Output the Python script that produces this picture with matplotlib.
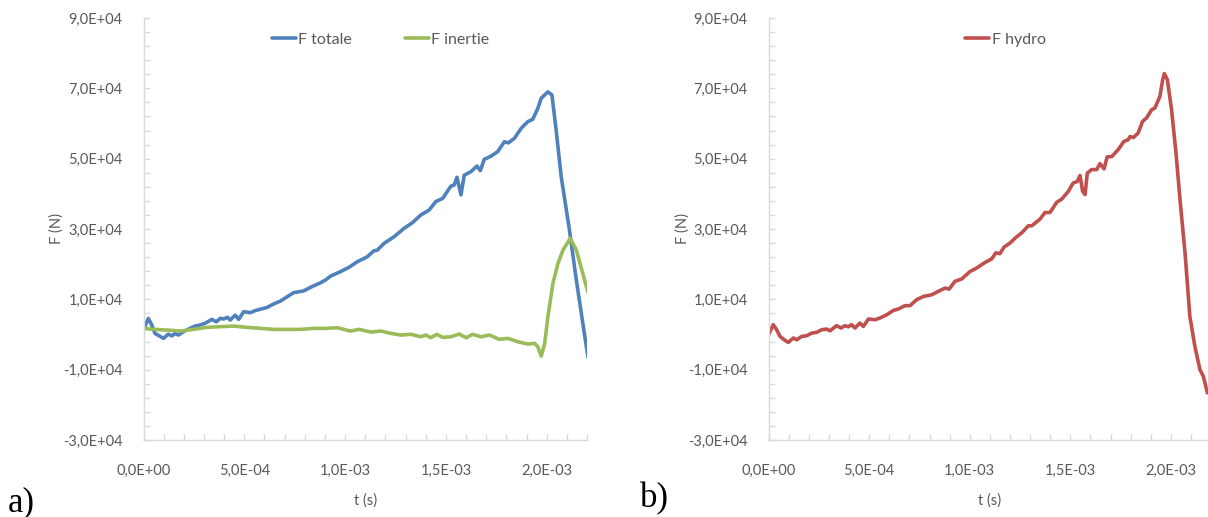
import matplotlib
matplotlib.use("Agg")
import matplotlib.pyplot as plt
from matplotlib.ticker import FuncFormatter, MultipleLocator

# ---- data (t in s, F in N) ----
t_totale = [0.0, 2.4e-5, 4.1e-5, 5.7e-5, 9.9e-5, 1.23e-4, 1.4e-4, 1.57e-4, 1.73e-4, 1.98e-4,
            2.31e-4, 2.56e-4, 2.81e-4, 3.06e-4, 3.39e-4, 3.61e-4, 3.81e-4, 3.97e-4, 4.17e-4,
            4.3e-4, 4.55e-4, 4.72e-4, 4.97e-4, 5.3e-4, 5.55e-4, 5.8e-4, 6.13e-4, 6.46e-4,
            6.79e-4, 7.12e-4, 7.45e-4, 7.95e-4, 8.28e-4, 8.78e-4, 9.03e-4, 9.28e-4, 9.78e-4,
            1.019e-3, 1.061e-3, 1.11e-3, 1.143e-3, 1.16e-3, 1.193e-3, 1.243e-3, 1.293e-3,
            1.334e-3, 1.376e-3, 1.417e-3, 1.45e-3, 1.484e-3, 1.525e-3, 1.541e-3, 1.555e-3,
            1.575e-3, 1.591e-3, 1.624e-3, 1.654e-3, 1.671e-3, 1.69e-3, 1.724e-3, 1.757e-3,
            1.79e-3, 1.81e-3, 1.84e-3, 1.873e-3, 1.906e-3, 1.931e-3, 1.956e-3, 1.973e-3,
            2.006e-3, 2.026e-3, 2.047e-3, 2.072e-3, 2.113e-3, 2.147e-3, 2.185e-3, 2.205e-3]
F_totale = [1300, 4600, 2700, 300, -1100, 100, -400, 300, -150, 800,
            1750, 2400, 2700, 3200, 4300, 3600, 4600, 4400, 4900,
            4100, 5500, 4300, 6500, 6200, 6800, 7200, 7700, 8700,
            9500, 10700, 11900, 12400, 13400, 14700, 15500, 16600, 17900,
            19100, 20700, 22100, 23800, 24000, 25900, 27800, 30200,
            31800, 34000, 35400, 37800, 38700, 42200, 42500, 44700,
            39700, 45300, 46300, 47900, 46600, 49800, 50700, 52000,
            54800, 54500, 55800, 58600, 60500, 61200, 64300, 67200,
            69000, 68100, 58100, 44900, 29700, 15500, 1000, -6500]

t_inertie = [0.0, 4.9e-5, 1.15e-4, 1.82e-4, 2.48e-4, 3.14e-4, 3.81e-4, 4.47e-4, 5.13e-4,
             5.8e-4, 6.46e-4, 7.12e-4, 7.79e-4, 8.45e-4, 9.1e-4, 9.61e-4, 9.94e-4, 1.027e-3,
             1.069e-3, 1.127e-3, 1.177e-3, 1.226e-3, 1.276e-3, 1.326e-3, 1.376e-3, 1.401e-3,
             1.425e-3, 1.455e-3, 1.484e-3, 1.525e-3, 1.566e-3, 1.6e-3, 1.633e-3, 1.674e-3,
             1.716e-3, 1.765e-3, 1.807e-3, 1.857e-3, 1.906e-3, 1.94e-3, 1.956e-3, 1.973e-3,
             1.99e-3, 2.006e-3, 2.031e-3, 2.056e-3, 2.081e-3, 2.117e-3, 2.147e-3, 2.188e-3,
             2.216e-3]
F_inertie = [1750, 1460, 1270, 980, 1460, 2030, 2220, 2400, 2030,
             1750, 1460, 1460, 1460, 1750, 1750, 1920, 1460, 980,
             1460, 700, 980, 330, -150, 50, -640, -150,
             -920, 50, -830, -640, 130, -920, 50, -640,
             -150, -1380, -1100, -2060, -2720, -2530, -3480, -6130,
             -2530, 5050, 14550, 20240, 24020, 27350, 24020, 15490,
             9800]

t_hydro = [0.0, 2.3e-5, 4.0e-5, 5.7e-5, 8.2e-5, 9.8e-5, 1.23e-4, 1.4e-4, 1.64e-4, 1.89e-4,
           2.14e-4, 2.39e-4, 2.64e-4, 2.89e-4, 3.05e-4, 3.38e-4, 3.6e-4, 3.8e-4, 3.96e-4,
           4.13e-4, 4.29e-4, 4.54e-4, 4.71e-4, 4.96e-4, 5.29e-4, 5.54e-4, 5.87e-4, 6.2e-4,
           6.45e-4, 6.78e-4, 7.03e-4, 7.36e-4, 7.69e-4, 8.11e-4, 8.43e-4, 8.77e-4, 8.97e-4,
           9.26e-4, 9.6e-4, 1.001e-3, 1.034e-3, 1.076e-3, 1.109e-3, 1.129e-3, 1.15e-3,
           1.171e-3, 1.2e-3, 1.225e-3, 1.258e-3, 1.291e-3, 1.308e-3, 1.349e-3, 1.374e-3,
           1.399e-3, 1.432e-3, 1.457e-3, 1.49e-3, 1.514e-3, 1.534e-3, 1.548e-3, 1.561e-3,
           1.573e-3, 1.584e-3, 1.606e-3, 1.631e-3, 1.647e-3, 1.667e-3, 1.683e-3, 1.706e-3,
           1.738e-3, 1.766e-3, 1.788e-3, 1.796e-3, 1.813e-3, 1.837e-3, 1.859e-3, 1.879e-3,
           1.904e-3, 1.92e-3, 1.945e-3, 1.959e-3, 1.967e-3, 1.982e-3, 2.003e-3, 2.025e-3,
           2.045e-3, 2.07e-3, 2.094e-3, 2.119e-3, 2.144e-3, 2.161e-3, 2.181e-3]
F_hydro = [-70, 2800, 1350, -550, -1700, -2250, -1000, -1500, -550, -350,
           400, 600, 1350, 1550, 1050, 2500, 1850, 2500, 2200,
           2800, 1850, 3250, 2300, 4400, 4200, 4700, 5600, 6850,
           7250, 8200, 8200, 9900, 10800, 11300, 12250, 13200, 12900,
           15100, 15800, 17900, 18900, 20500, 21500, 23200, 23000,
           24900, 26000, 27400, 28900, 30900, 30900, 32800, 34700,
           34700, 37600, 38500, 40700, 43100, 43500, 45200, 40700,
           39800, 45900, 46900, 46900, 48600, 47100, 50500, 50600,
           52600, 54900, 55400, 56300, 56000, 57300, 60600, 61600,
           63900, 64400, 67700, 72500, 74200, 72500, 63900, 51600,
           38300, 23200, 5100, -3400, -10000, -11900, -16600]

x_label = "t (s)"
y_label = "F (N)"
panel_labels = ["a)", "b)"]

# ---- figure ----
W, H = 1208, 517
fig = plt.figure(figsize=(W / 100, H / 100), dpi=100)
fig.patch.set_facecolor("white")

tick_font = ["Lato", "DejaVu Sans"]
gray = "#595959"
axis_gray = "#D9D9D9"
fs = 10.5

def sci_fmt(v, pos):
    return f"{v:.1E}".replace(".", ",")

def style(ax):
    ax.set_xlim(0, 2.2e-3)
    ax.set_ylim(-3e4, 9e4)
    ax.xaxis.set_major_locator(MultipleLocator(5e-4))
    ax.xaxis.set_minor_locator(MultipleLocator(1e-4))
    ax.yaxis.set_major_locator(MultipleLocator(2e4, offset=1e4))
    ax.yaxis.set_minor_locator(MultipleLocator(4e3, offset=2e3))
    ax.xaxis.set_major_formatter(FuncFormatter(sci_fmt))
    ax.yaxis.set_major_formatter(FuncFormatter(sci_fmt))
    for s in ["top", "right"]:
        ax.spines[s].set_visible(False)
    for s in ["left", "bottom"]:
        ax.spines[s].set_color(axis_gray)
        ax.spines[s].set_linewidth(1.0)
    ax.tick_params(which="both", direction="in", color=axis_gray, width=1.0, length=4)
    ax.tick_params(axis="y", which="major", pad=15, labelsize=fs, labelcolor=gray)
    ax.tick_params(axis="x", which="major", pad=17, labelsize=fs, labelcolor=gray)
    for lab in ax.get_xticklabels() + ax.get_yticklabels():
        lab.set_family(tick_font)
    ax.set_xlabel(x_label, fontsize=fs, color=gray, family=tick_font)
    ax.set_ylabel(y_label, fontsize=fs, color=gray, family=tick_font)
    ax.set_facecolor("white")

y0 = (H - 440) / H
hgt = 422 / H
ax1 = fig.add_axes([143.5 / W, y0, 443.5 / W, hgt])
ax2 = fig.add_axes([768.6 / W, y0, 442.6 / W, hgt])

lw = 2.6
ax1.plot(t_totale, F_totale, color="#4F81BD", lw=lw, label="F totale",
         solid_joinstyle="round", solid_capstyle="round")
ax1.plot(t_inertie, F_inertie, color="#9BBB59", lw=lw, label="F inertie",
         solid_joinstyle="round", solid_capstyle="round")
ax2.plot(t_hydro, F_hydro, color="#C0504D", lw=lw, label="F hydro",
         solid_joinstyle="round", solid_capstyle="round")

for ax in (ax1, ax2):
    style(ax)
    ax.yaxis.set_label_coords(-79.5 / 443.5, 0.5)
    ax.xaxis.set_label_coords(0.5, -(493 - 440) / 422)
    leg = ax.legend(loc="center", bbox_to_anchor=(0.535, 1 - (40 - 18) / 422), ncol=2,
                    frameon=False, prop={"family": tick_font, "size": 11.5},
                    handlelength=1.5, handletextpad=0.15, columnspacing=3.3)
    for txt in leg.get_texts():
        txt.set_color(gray)

fig.text(8 / W, 1 - 511 / H, panel_labels[0], family=["Liberation Serif", "DejaVu Serif"],
         fontsize=25, ha="left", va="baseline")
fig.text(640 / W, 1 - 507 / H, panel_labels[1], family=["Liberation Serif", "DejaVu Serif"],
         fontsize=25, ha="left", va="baseline")

fig.savefig("out.png", dpi=100, facecolor="white")
